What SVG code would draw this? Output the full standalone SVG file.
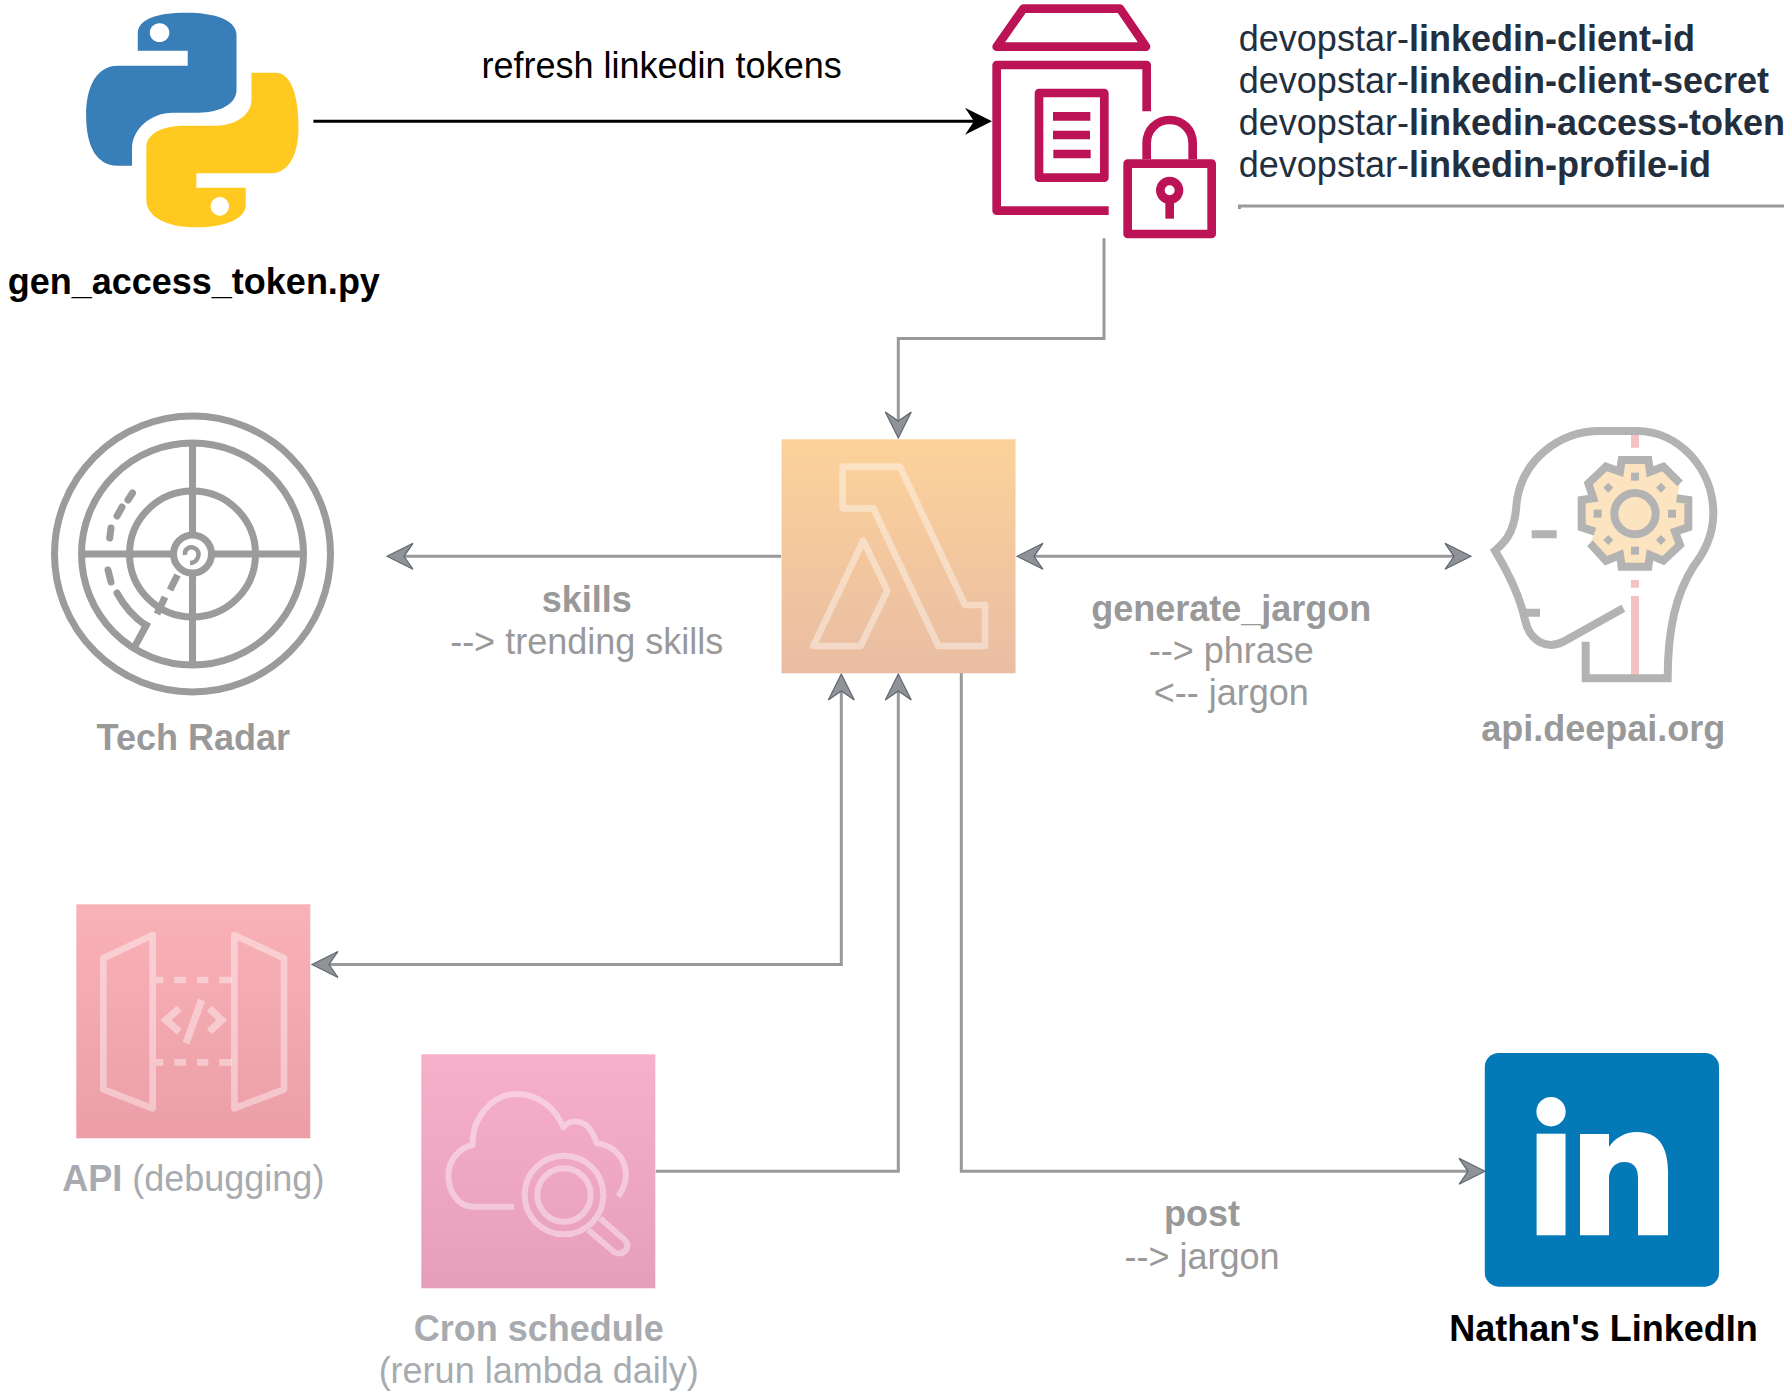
<svg xmlns="http://www.w3.org/2000/svg" width="1788" height="1395" viewBox="0 0 1788 1395">
<style>
text{font-family:"Liberation Sans",Arial,sans-serif;font-size:36px}
.m{text-anchor:middle}
.b{font-weight:700}
.k{fill:#000}
.g{fill:#999}
.l{fill:#a7abb0}
.d{fill:#232f3e}
.wire{fill:none;stroke:#999;stroke-width:3}
.sm{fill:none;stroke:#bc1356;stroke-width:26;stroke-linejoin:round}
.rd{fill:none;stroke:#9b9b9b;stroke-width:7}
.hd{fill:none;stroke:#b3b3b3;stroke-width:24}
.pk{fill:none;stroke:#f5c2c4;stroke-width:24}
.ic{fill:none;stroke:#fff;stroke-opacity:.4;stroke-width:20;stroke-linejoin:round}
</style>
<defs>
<marker id="ah" markerUnits="userSpaceOnUse" markerWidth="30" markerHeight="30" refX="14" refY="15" orient="auto-start-reverse"><path d="M27,15 L1,2 L10,15 L1,28 Z" fill="#8f9296" stroke="#5f6872" stroke-width="1.2"/></marker>
<marker id="bh" markerUnits="userSpaceOnUse" markerWidth="30" markerHeight="30" refX="14" refY="15" orient="auto"><path d="M28,15 L1,1.5 L10,15 L1,28.5 Z" fill="#000"/></marker>
<linearGradient id="gl" x1="0" y1="0" x2="0" y2="1"><stop offset="0" stop-color="#fcd29a"/><stop offset="1" stop-color="#e9bda3"/></linearGradient>
<linearGradient id="ga" x1="0" y1="0" x2="0" y2="1"><stop offset="0" stop-color="#f9b2b7"/><stop offset="1" stop-color="#eb9ea7"/></linearGradient>
<linearGradient id="gc" x1="0" y1="0" x2="0" y2="1"><stop offset="0" stop-color="#f7b0ca"/><stop offset="1" stop-color="#e69ebb"/></linearGradient>
</defs>

<g id="connectors">
<path class="wire" d="M313.4,121.3 H978" style="stroke:#000" marker-end="url(#bh)"/>
<path class="wire" d="M1104,238.3 V338.5 H898.3 V425" marker-end="url(#ah)"/>
<path class="wire" d="M781,556.3 H400" marker-end="url(#ah)"/>
<path class="wire" d="M1030,556.3 H1458" marker-start="url(#ah)" marker-end="url(#ah)"/>
<path class="wire" d="M841.3,687 V964.5 H325" marker-start="url(#ah)" marker-end="url(#ah)"/>
<path class="wire" d="M655.7,1171.3 H898.3 V687" marker-end="url(#ah)"/>
<path class="wire" d="M961.3,673 V1171.3 H1472" marker-end="url(#ah)"/>
</g>

<g id="python">
<g transform="scale(.57405,.33333)">
<path fill="#387eb8" fill-rule="evenodd" d="M325,38 C270,38 240,60 240,100 V152 H327 V197 H205 C165,197 150,270 150,345 C150,430 165,497 205,497 H230 V445 C230,385 265,338 300,338 H345 C385,338 412,310 412,270 V105 C412,60 375,38 325,38 Z M278,70 C288,70 295,83 295,98 C295,113 288,126 278,126 C268,126 261,113 261,98 C261,83 268,70 278,70 Z"/>
<path fill="#ffc91f" fill-rule="evenodd" d="M438,218 H480 C510,218 520,300 520,380 C520,460 505,520 470,520 H342 V563 H428 V615 C428,655 395,682 340,682 C290,682 255,650 255,600 V440 C255,405 280,377 320,377 H375 C410,377 438,345 438,300 Z M383,591 C392,591 399,604 399,619 C399,634 392,647 383,647 C374,647 367,634 367,619 C367,604 374,591 383,591 Z"/>
</g>
<text class="m b k" x="193.8" y="294">gen_access_token.py</text>
</g>

<g id="refresh-label"><text class="m k" x="661.6" y="78">refresh linkedin tokens</text></g>

<g id="secrets-manager">
<g transform="translate(980,0) scale(.33333)">
<path class="sm" d="M130,26 H420 L498,140 H50 Z"/>
<path class="sm" d="M386,632 H50 V195 H500 V334"/>
<path class="sm" d="M177,279 H373 V533 H177 Z"/>
<path class="sm" d="M219,349 H331 M219,405 H330 M220,462 H332"/>
<path class="sm" d="M443,491 H695 V702 H443 Z"/>
<path class="sm" d="M500,478 V430 C500,390 530,360 569,360 C608,360 638,390 638,430 V478"/>
<circle class="sm" cx="569" cy="571" r="28"/>
<path class="sm" d="M569,600 V656"/>
</g>
<text class="d" x="1238.8" y="51">devopstar-<tspan class="b">linkedin-client-id</tspan></text>
<text class="d" x="1238.8" y="93">devopstar-<tspan class="b">linkedin-client-secret</tspan></text>
<text class="d" x="1238.8" y="135">devopstar-<tspan class="b">linkedin-access-token</tspan></text>
<text class="d" x="1238.8" y="177">devopstar-<tspan class="b">linkedin-profile-id</tspan></text>
<path d="M1239.5,209 V206 H1784" fill="none" stroke="#999" stroke-width="3"/>
</g>

<g id="lambda">
<rect x="781.5" y="439.3" width="234" height="234" fill="url(#gl)"/>
<g transform="translate(760,410) scale(.33333)">
<path class="ic" d="M248,170 H420 L615,585 H675 V708 H535 L340,295 H248 Z"/>
<path class="ic" d="M310,392 L382,542 L302,708 H160 Z"/>
</g>
</g>

<g id="tech-radar">
<circle class="rd" cx="192.5" cy="554" r="138"/>
<circle class="rd" cx="192.5" cy="554" r="111"/>
<circle class="rd" cx="192.5" cy="554" r="63"/>
<circle class="rd" cx="192.5" cy="554" r="19"/>
<path class="rd" d="M192.5,443 V535 M192.5,573 V665 M81.5,554 H173.5 M211.5,554 H303.5"/>
<path class="rd" d="M190,563 C198,563 201,553 196,549 C190,545 184,549 185,555" style="stroke-width:4.5"/>
<path class="rd" stroke-linecap="round" d="M132.5,493 L128,500 M122,507 L117,516 M111,528 L109.7,538 M108,570 L111,582 M117,593 C124,606 134,617 145,625"/>
<path class="rd" d="M177.5,575 L170,590 M165,597 L157,614 M148,622 L134,648"/>
<text class="m b g" x="193.3" y="750">Tech Radar</text>
</g>

<g id="skills-label">
<text class="m b g" x="586.7" y="612">skills</text>
<text class="m g" x="586.7" y="654">--&gt; trending skills</text>
</g>

<g id="jargon-label">
<text class="m b g" x="1231.3" y="621">generate_jargon</text>
<text class="m g" x="1231.3" y="663">--&gt; phrase</text>
<text class="m g" x="1231.3" y="705">&lt;-- jargon</text>
</g>

<g id="deepai">
<g transform="translate(1480,420) scale(.33333)">
<path class="pk" d="M465,45 V83 M465,480 V503 M465,528 V765"/>
<path class="hd" d="M430,565 L250,665 C200,690 150,665 135,600 C120,530 80,450 45,392 C70,370 100,345 108,270 C115,120 240,33 360,33 H470 C600,33 700,150 700,280 C700,350 670,400 640,440 C590,520 563,620 563,775 H317 V665"/>
<path class="hd" d="M155,343 H230 M125,578 H180"/>
<path fill="#fce4c0" d="M425,120 H505 L510,155 L550,140 L600,190 L590,235 L625,240 V322 L585,335 L600,375 L550,422 L510,405 L505,440 H425 L420,405 L378,422 L330,370 L345,335 L305,322 V240 L340,235 L325,190 L378,140 L420,155 Z"/>
<path class="hd" d="M600,190 L550,140 L510,155 L505,120 H425 L420,155 L378,140 L325,190 L340,235 L305,240 V322 L345,335"/>
<path class="hd" d="M330,370 L378,422 L420,405 L425,440 H505 L510,405 L550,422 L600,375 L585,335 L625,322 V240 L590,235"/>
<circle class="hd" cx="465" cy="281" r="62"/>
<g fill="#b3b3b3"><rect x="453" y="158" width="24" height="24"/><rect x="453" y="380" width="24" height="24"/><rect x="341" y="269" width="24" height="24"/><rect x="564" y="269" width="24" height="24"/>
<path d="M385,188 L400,203 L385,218 L370,203 Z M543,188 L558,203 L543,218 L528,203 Z M385,345 L400,360 L385,375 L370,360 Z M543,345 L558,360 L543,375 L528,360 Z"/></g>
</g>
<text class="m b g" x="1603.2" y="741">api.deepai.org</text>
</g>

<g id="api-gateway">
<rect x="76.3" y="904.3" width="234" height="234" fill="url(#ga)"/>
<g transform="translate(50,890) scale(.33333)">
<path class="ic" d="M308,135 L160,205 V598 L308,655 Z M553,135 L702,205 V598 L553,655 Z"/>
<path class="ic" d="M318,270 H340 M373,270 H408 M441,270 H475 M508,270 H545 M318,517 H340 M373,517 H408 M441,517 H475 M508,517 H545"/>
<path class="ic" style="stroke-width:22;stroke-linejoin:miter" d="M388,355 L348,390 L388,425 M478,355 L515,390 L478,425 M455,330 L408,460"/>
</g>
<text class="m l" x="193.3" y="1190.5"><tspan class="b">API</tspan> (debugging)</text>
</g>

<g id="cron-schedule">
<rect x="421.3" y="1054.3" width="234" height="234" fill="url(#gc)"/>
<g transform="translate(400,1040) scale(.33333)">
<path class="ic" style="stroke-width:18" d="M342,500 H220 C170,500 145,450 145,405 C145,360 180,322 218,315 C215,230 280,162 350,162 C410,162 465,200 490,262 C510,235 565,230 590,310 C640,315 678,355 678,405 C678,430 668,450 655,470"/>
<circle class="ic" style="stroke-width:18" cx="492" cy="465" r="118"/>
<circle class="ic" style="stroke-width:18" cx="492" cy="465" r="80"/>
<path class="ic" style="stroke-width:18" d="M600,535 L675,600 C690,615 680,638 660,640 C650,642 640,635 635,630 L565,570"/>
</g>
<text class="m b l" x="538.7" y="1340.5">Cron schedule</text>
<text class="m l" x="538.7" y="1382.5">(rerun lambda daily)</text>
</g>

<g id="post-label">
<text class="m b g" x="1202" y="1226">post</text>
<text class="m g" x="1202" y="1268.5">--&gt; jargon</text>
</g>

<g id="linkedin">
<rect x="1484.8" y="1053" width="234.2" height="233.7" rx="14" fill="#0379b8"/>
<ellipse cx="1551" cy="1111.7" rx="14.6" ry="14.7" fill="#fff"/>
<rect x="1536.6" y="1133.7" width="28.9" height="101.6" fill="#fff"/>
<path fill="#fff" d="M1580,1134 H1609 V1147 C1615,1138 1625,1132 1637,1132 C1658,1132 1668,1146 1668,1172 V1235.3 H1638 V1178 C1638,1168 1634,1162 1624,1162 C1614,1162 1609,1170 1609,1178 V1235.3 H1580 Z"/>
<text class="m b k" x="1603.5" y="1340.5">Nathan's LinkedIn</text>
</g>
</svg>
